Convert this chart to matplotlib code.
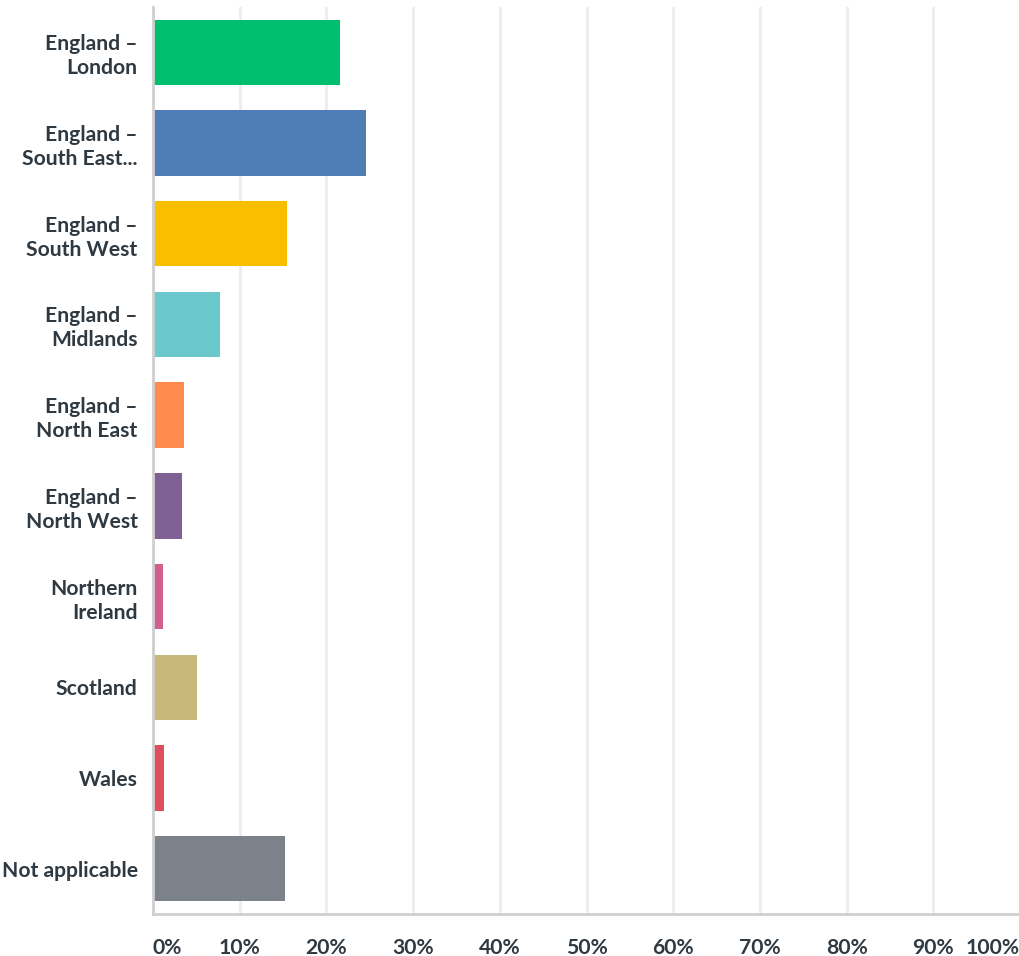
import matplotlib.pyplot as plt
import numpy as np

regions = ['England –\nLondon', 'England –\nSouth East...', 'England –\nSouth West',
           'England –\nMidlands', 'England –\nNorth East', 'England –\nNorth West',
           'Northern\nIreland', 'Scotland', 'Wales', 'Not applicable']
percent = [21.6, 24.6, 15.4, 7.7, 3.6, 3.3, 1.1, 5.1, 1.3, 15.2]
colors = ['#00BF6F', '#507CB6', '#F9BE00', '#6BC8CD', '#FF8B4F',
          '#7F6195', '#D25F90', '#C8B879', '#DE4E5C', '#7B828A']
ticks = list(range(0, 101, 10))
tick_labels = ['%d%%' % t for t in ticks]

text_col = '#2E3942'
plt.rcParams['font.family'] = ['Lato', 'DejaVu Sans']

fig = plt.figure(figsize=(10.2, 9.56), dpi=100)
ax = fig.add_axes([153 / 1020, 1 - 914 / 956, 867 / 1020, 907 / 956])

y = np.arange(len(regions))
ax.barh(y, percent, height=0.72, color=colors, zorder=3)

ax.set_xlim(0, 100)
ax.set_ylim(len(regions) - 0.5, -0.5)
ax.set_xticks(ticks)
ax.set_xticklabels(tick_labels)
ax.set_yticks(y)
ax.set_yticklabels(regions, linespacing=1.25)

ax.grid(axis='x', color='#EDEDED', linewidth=2, zorder=0)
ax.tick_params(axis='both', length=0, labelsize=15.2, labelcolor=text_col)
ax.tick_params(axis='x', pad=17)
ax.tick_params(axis='y', pad=11)
for lbl in ax.get_xticklabels() + ax.get_yticklabels():
    lbl.set_fontweight('bold')

# keep the end labels inside the plot area
xl = ax.get_xticklabels()
xl[0].set_horizontalalignment('left')
xl[-1].set_horizontalalignment('right')

for side in ['top', 'right']:
    ax.spines[side].set_visible(False)
for side in ['left', 'bottom']:
    ax.spines[side].set_color('#CFCFCF')
    ax.spines[side].set_linewidth(2)
    ax.spines[side].set_zorder(4)

plt.savefig('out.png', dpi=100)
plt.close()
